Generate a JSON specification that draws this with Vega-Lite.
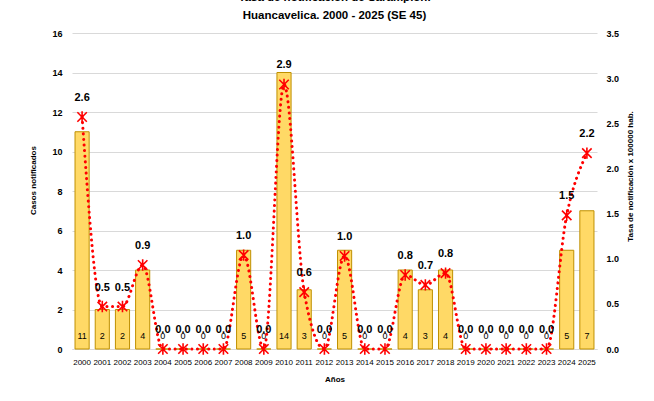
{
  "$schema": "https://vega.github.io/schema/vega-lite/v6.json",
  "autosize": {"type": "none"},
  "padding": {"left": 72, "top": 33, "right": 57, "bottom": 52},
  "width": 525,
  "height": 316,
  "background": "white",
  "config": {
    "font": "Liberation Sans",
    "view": {"stroke": null}
  },
  "title": {
    "text": ["Tasa de notificación  de  Sarampión.", "Huancavelica. 2000 - 2025 (SE 45)"],
    "fontSize": 11.5,
    "fontWeight": "bold",
    "font": "Liberation Sans",
    "lineHeight": 18,
    "offset": 8,
    "anchor": "middle",
    "color": "#000000"
  },
  "data": {
    "values": [
      {"anio": "2000", "casos": 11, "tasa": 2.57},
      {"anio": "2001", "casos": 2, "tasa": 0.47},
      {"anio": "2002", "casos": 2, "tasa": 0.47},
      {"anio": "2003", "casos": 4, "tasa": 0.93},
      {"anio": "2004", "casos": 0, "tasa": 0},
      {"anio": "2005", "casos": 0, "tasa": 0},
      {"anio": "2006", "casos": 0, "tasa": 0},
      {"anio": "2007", "casos": 0, "tasa": 0},
      {"anio": "2008", "casos": 5, "tasa": 1.04},
      {"anio": "2009", "casos": 0, "tasa": 0},
      {"anio": "2010", "casos": 14, "tasa": 2.93},
      {"anio": "2011", "casos": 3, "tasa": 0.63},
      {"anio": "2012", "casos": 0, "tasa": 0},
      {"anio": "2013", "casos": 5, "tasa": 1.03},
      {"anio": "2014", "casos": 0, "tasa": 0},
      {"anio": "2015", "casos": 0, "tasa": 0},
      {"anio": "2016", "casos": 4, "tasa": 0.82},
      {"anio": "2017", "casos": 3, "tasa": 0.71},
      {"anio": "2018", "casos": 4, "tasa": 0.84},
      {"anio": "2019", "casos": 0, "tasa": 0},
      {"anio": "2020", "casos": 0, "tasa": 0},
      {"anio": "2021", "casos": 0, "tasa": 0},
      {"anio": "2022", "casos": 0, "tasa": 0},
      {"anio": "2023", "casos": 0, "tasa": 0},
      {"anio": "2024", "casos": 5, "tasa": 1.48},
      {"anio": "2025", "casos": 7, "tasa": 2.17}
    ]
  },
  "encoding": {
    "x": {
      "field": "anio",
      "type": "nominal",
      "scale": {"paddingInner": 0.3, "paddingOuter": 0.15},
      "axis": {
        "title": "Años",
        "labelAngle": 0,
        "labelFontSize": 8,
        "labelColor": "#000000",
        "labelPadding": 9,
        "ticks": false,
        "domainColor": "#D9D9D9",
        "titleFontSize": 8,
        "titleFontWeight": "bold",
        "titleColor": "#000000",
        "titlePadding": 9
      }
    }
  },
  "layer": [
    {
      "mark": {"type": "bar", "fill": "#FFD966", "stroke": "#BF9000", "strokeWidth": 1},
      "encoding": {
        "y": {
          "field": "casos",
          "type": "quantitative",
          "scale": {"domain": [0, 16], "nice": false},
          "axis": {
            "orient": "left",
            "values": [0, 2, 4, 6, 8, 10, 12, 14, 16],
            "labelOverlap": false,
            "grid": true,
            "gridColor": "#D9D9D9",
            "domain": false,
            "ticks": false,
            "labelFontSize": 9,
            "labelFontWeight": "bold",
            "labelColor": "#000000",
            "labelPadding": 10,
            "title": "Casos  notificados",
            "titleFontSize": 8,
            "titleFontWeight": "bold",
            "titleColor": "#000000",
            "titlePadding": 14,
            "titleY": 147
          }
        }
      }
    },
    {
      "mark": {"type": "text", "fontSize": 9, "dy": -13, "color": "#000000"},
      "encoding": {
        "y": {"datum": 0, "type": "quantitative", "scale": {"domain": [0, 16], "nice": false}, "axis": null},
        "text": {"field": "casos", "type": "quantitative"}
      }
    },
    {
      "mark": {
        "type": "line",
        "interpolate": "monotone",
        "color": "#FF0000",
        "strokeWidth": 3,
        "strokeDash": [0.1, 5.5],
        "strokeCap": "round"
      },
      "encoding": {
        "y": {
          "field": "tasa",
          "type": "quantitative",
          "scale": {"domain": [0, 3.5], "nice": false},
          "axis": {
            "orient": "right",
            "values": [0, 0.5, 1, 1.5, 2, 2.5, 3, 3.5],
            "labelOverlap": false,
            "format": ".1f",
            "grid": false,
            "domain": false,
            "ticks": false,
            "labelFontSize": 9,
            "labelFontWeight": "bold",
            "labelColor": "#000000",
            "labelPadding": 9,
            "title": "Tasa de notificación x 100000 hab.",
            "titleAngle": 270,
            "titleFontSize": 8,
            "titleFontWeight": "bold",
            "titleColor": "#000000",
            "titlePadding": 16,
            "titleY": 143
          }
        }
      }
    },
    {
      "mark": {
        "type": "point",
        "shape": "M-1,-1L1,1M-1,1L1,-1M0,-1.2L0,1.2",
        "size": 90,
        "filled": false,
        "stroke": "#FF0000",
        "strokeWidth": 1.6,
        "opacity": 1
      },
      "encoding": {
        "y": {"field": "tasa", "type": "quantitative", "scale": {"domain": [0, 3.5], "nice": false}, "axis": null}
      }
    },
    {
      "mark": {"type": "text", "fontSize": 11, "fontWeight": "bold", "dy": -19, "color": "#000000"},
      "encoding": {
        "y": {"field": "tasa", "type": "quantitative", "scale": {"domain": [0, 3.5], "nice": false}, "axis": null},
        "text": {"field": "tasa", "type": "quantitative", "format": ".1f"}
      }
    }
  ],
  "resolve": {"scale": {"y": "independent"}}
}
